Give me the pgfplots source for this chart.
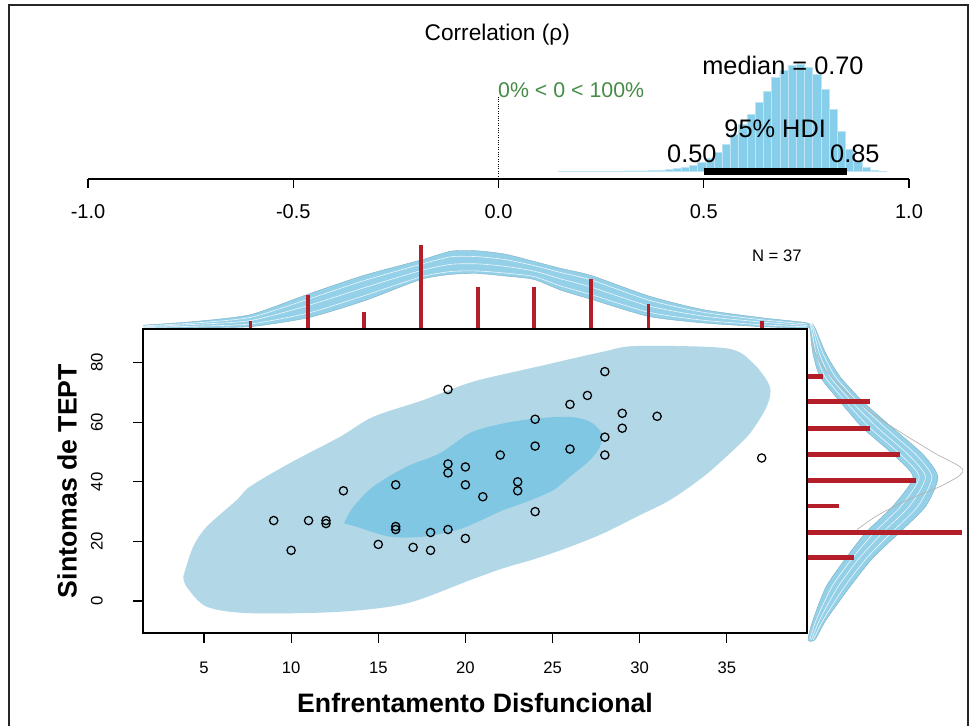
\documentclass[border=0pt]{standalone}
\usepackage{fontspec}
\setmainfont{Liberation Sans}
\usepackage{pgfplots}
\pgfplotsset{compat=1.18}
\definecolor{hist}{RGB}{135,206,235}
\definecolor{band}{RGB}{148,208,232}
\definecolor{outerc}{RGB}{178,215,231}
\definecolor{innerc}{RGB}{128,199,228}
\definecolor{barred}{RGB}{180,30,40}
\definecolor{txtgreen}{RGB}{70,140,70}
\begin{document}
\begin{tikzpicture}
\path[fill=white] (0,0) rectangle (732.75pt,544.5pt);
\draw[black!85, line width=1.8pt] (6.75pt,0pt) -- (6.75pt,540.75pt) -- (726pt,540.75pt) -- (726pt,0pt);

% ---------- posterior of rho ----------
\begin{axis}[
  at={(66pt,410.25pt)}, anchor=south west, scale only axis,
  width=615.75pt, height=120pt,
  xmin=-1, xmax=1, ymin=-7.3, ymax=152.7,
  axis x line=bottom, axis y line=none, x axis line style={-, line width=0.9pt},
  ytick=\empty, clip=false,
  xtick={-1,-0.5,0,0.5,1}, xticklabels={-1.0,-0.5,0.0,0.5,1.0},
  tick align=outside, major tick length=6.75pt, tick style={black, line width=0.9pt},
  xticklabel style={anchor=center, yshift=-17.75pt, font=\fontsize{15}{18}\selectfont},
]
\addplot[ybar, bar width=0.02, fill=hist, draw=hist!55!white, line width=0.3pt] coordinates {
 (0.155,0.3) (0.175,0.3) (0.195,0.3) (0.215,0.4) (0.235,0.4) (0.255,0.5) (0.275,0.5)
 (0.295,0.6) (0.315,0.7) (0.335,0.8) (0.355,0.9) (0.375,1.0) (0.395,1.3)
 (0.415,2) (0.435,3) (0.455,4) (0.475,6) (0.495,9) (0.515,13) (0.535,19) (0.555,27)
 (0.575,37) (0.595,47) (0.615,57) (0.635,69) (0.655,80) (0.675,94) (0.695,101)
 (0.715,106) (0.735,107) (0.755,104) (0.775,97) (0.795,82) (0.815,62) (0.835,40)
 (0.855,22) (0.875,10) (0.895,4) (0.915,1.5) (0.935,0.5)};
\addplot[black, line width=5.25pt] coordinates {(0.50,0) (0.85,0)};
\addplot[black, densely dotted, line width=0.8pt] coordinates {(0,-7.3) (0,74.7)};
\node[font=\fontsize{17}{20}\selectfont] at (axis cs:-0.003,136.7) {Correlation (ρ)};
\node[font=\fontsize{19}{22}\selectfont] at (axis cs:0.693,106.7) {median = 0.70};
\node[font=\fontsize{19}{22}\selectfont] at (axis cs:0.674,42.7) {95\% HDI};
\node[font=\fontsize{19}{22}\selectfont] at (axis cs:0.471,17.7) {0.50};
\node[font=\fontsize{19}{22}\selectfont] at (axis cs:0.868,17.7) {0.85};
\node[font=\fontsize{16}{19}\selectfont, text=txtgreen] at (axis cs:0.177,81.7) {0\% < 0 < 100\%};
\end{axis}

% ---------- top marginal (x) ----------
\begin{axis}[
  at={(107.25pt,297.75pt)}, anchor=south west, scale only axis,
  width=498pt, height=75pt,
  xmin=1.5, xmax=39.6, ymin=0, ymax=11.9, hide axis, clip=false,
]
\addplot[fill=band, draw=band!85!black, line width=0.3pt, smooth, tension=0.4] coordinates {
 (1.5,0.45) (4.5,0.9) (7.67,1.71) (10.98,4.15) (14.17,6.38) (17.45,8.21) (19.2,9.27)
 (20.73,9.30) (22.3,8.90) (23.92,8.05) (25.5,7.2) (27.2,6.38) (30.5,3.94) (33.6,2.32)
 (37,1.34) (39.6,0.73)
 (39.6,0.12) (37,0.28) (33.6,0.73) (30.5,1.5) (27.2,3.54) (25.5,4.6) (23.92,5.9)
 (22.3,6.3) (20.73,6.6) (19.2,6.5) (17.45,5.9) (14.17,3.33) (10.98,1.34) (7.67,0.28)
 (4.5,0.15) (1.5,0.1)};
\addplot[white, line width=0.45pt, opacity=0.85, smooth, tension=0.4] coordinates {
 (1.5,0.18) (4.5,0.33) (7.67,0.6) (10.98,1.9) (14.17,3.95) (17.45,6.2) (19.2,6.85)
 (20.73,6.9) (22.3,6.65) (23.92,6.25) (25.5,5.1) (27.2,4.1) (30.5,2.0) (33.6,1.05)
 (37,0.5) (39.6,0.25)};
\addplot[white, line width=0.45pt, opacity=0.85, smooth, tension=0.4] coordinates {
 (1.5,0.27) (4.5,0.55) (7.67,1.0) (10.98,2.8) (14.17,4.9) (17.45,6.95) (19.2,7.7)
 (20.73,7.75) (22.3,7.45) (23.92,6.9) (25.5,5.95) (27.2,5.0) (30.5,2.75) (33.6,1.55)
 (37,0.82) (39.6,0.42)};
\addplot[white, line width=0.45pt, opacity=0.85, smooth, tension=0.4] coordinates {
 (1.5,0.36) (4.5,0.72) (7.67,1.38) (10.98,3.55) (14.17,5.75) (17.45,7.7) (19.2,8.6)
 (20.73,8.6) (22.3,8.25) (23.92,7.55) (25.5,6.7) (27.2,5.85) (30.5,3.45) (33.6,2.0)
 (37,1.1) (39.6,0.6)};
\addplot[ycomb, barred, line width=2.8pt] coordinates {
 (7.67,1) (10.98,4) (14.17,2) (17.45,10) (20.73,5) (23.92,5) (27.2,6) (30.5,3) (37.0,1)};
\node[font=\fontsize{12.5}{15}\selectfont] at (axis cs:37.87,8.7) {N = 37};
\end{axis}

% ---------- right marginal (y) ----------
\begin{axis}[
  at={(606pt,69.75pt)}, anchor=south west, scale only axis,
  width=120pt, height=228pt,
  xmin=0, xmax=10.39, ymin=-10.74, ymax=91.3, hide axis, clip=false,
]
\addplot[fill=band, draw=band!85!black, line width=0.3pt, smooth, tension=0.4] coordinates {
 (0.3,93) (0.52,91) (1.17,83) (2.08,75.3) (3.57,66.9) (5.52,58) (7.47,49.2) (8.44,41.6)
 (7.66,31.9) (5.97,23.1) (4.22,14.5) (2.73,4.8) (1.17,-6.4) (0.45,-13)
 (0,-13) (0.32,-6.4) (1.17,4.8) (2.47,14.5) (3.77,23.1) (5.52,31.9) (6.82,41.6)
 (5.52,49.2) (3.57,58) (2.08,66.9) (0.78,75.3) (0.32,83) (0.13,91) (0.05,93)};
\addplot[white, line width=0.45pt, opacity=0.85, smooth, tension=0.4] coordinates {
 (0.11,93) (0.23,91) (0.53,83) (1.10,75.3) (2.45,66.9) (4.05,58) (6.0,49.2) (7.22,41.6)
 (6.05,31.9) (4.32,23.1) (2.9,14.5) (1.55,4.8) (0.53,-6.4) (0.11,-13)};
\addplot[white, line width=0.45pt, opacity=0.85, smooth, tension=0.4] coordinates {
 (0.18,93) (0.33,91) (0.75,83) (1.43,75.3) (2.83,66.9) (4.55,58) (6.5,49.2) (7.63,41.6)
 (6.6,31.9) (4.87,23.1) (3.35,14.5) (1.95,4.8) (0.75,-6.4) (0.23,-13)};
\addplot[white, line width=0.45pt, opacity=0.85, smooth, tension=0.4] coordinates {
 (0.25,93) (0.43,91) (0.98,83) (1.78,75.3) (3.22,66.9) (5.05,58) (7.0,49.2) (8.05,41.6)
 (7.15,31.9) (5.45,23.1) (3.82,14.5) (2.37,4.8) (0.98,-6.4) (0.35,-13)};
\addplot[gray!60, line width=0.5pt, smooth, tension=0.5] coordinates {
 (0.2,88) (0.78,80) (2.5,70) (4.7,61) (8.1,50) (10.06,44) (8.8,39) (6.5,34) (4.5,28.7) (3.2,24)};
\addplot[xcomb, barred, line width=3.6pt] coordinates {
 (1,75.3) (4,66.9) (4,58.0) (6,49.2) (7,40.4) (2,31.9) (10,23.1) (3,14.5)};
\end{axis}

% ---------- scatter ----------
\begin{axis}[
  at={(107.25pt,69.75pt)}, anchor=south west, scale only axis,
  width=498pt, height=228pt,
  xmin=1.5, xmax=39.6, ymin=-10.74, ymax=91.3,
  axis on top, tick align=outside, xtick pos=bottom, ytick pos=left,
  xtick={5,10,...,35}, ytick={0,20,...,80},
  major tick length=7.5pt, tick style={black, line width=0.9pt},
  axis line style={line width=1pt},
  /pgf/number format/assume math mode=true,
  xticklabel style={anchor=center, yshift=-18.75pt, font=\fontsize{12.5}{15}\selectfont},
  yticklabel style={xshift=-27pt, rotate=90, anchor=center, font=\fontsize{12.5}{15}\selectfont},
  xlabel={Enfrentamento Disfuncional}, ylabel={Sintomas de TEPT},
  xlabel style={at={(axis description cs:0.5,-0.230)}, anchor=center, font=\bfseries\fontsize{20}{24}\selectfont},
  ylabel style={at={(axis description cs:-0.1145,0.5)}, anchor=center, font=\bfseries\fontsize{20}{24}\selectfont},
]
\addplot[fill=outerc, draw=none, smooth, tension=0.5] coordinates {
 (3.81,8.2) (4.37,18.1) (5.15,24.9) (6.88,33.9) (7.64,38.4) (9.93,46.3) (12.80,55.1)
 (14.70,61.8) (17.56,67.4) (20.43,73.6) (24.09,78.6) (27.91,83.7) (29.83,85.6)
 (34.99,84.8) (36.51,79.8) (37.47,71.9) (37.28,65.2) (36.33,56.3) (35.18,49.6)
 (33.65,41.7) (31.74,33.9) (29.83,28.3) (27.91,22.7) (26.0,18.2) (24.09,14.3)
 (22.17,11.0) (20.26,7.0) (16.63,-0.8) (12.80,-3.6) (7.64,-4.1) (5.15,-1.9) (4.0,4.8) (3.81,8.2)};
\addplot[fill=innerc, draw=none, smooth, tension=0.5] coordinates {
 (13.03,26.1) (13.57,31.6) (14.71,38.4) (16.63,45.1) (18.54,49.6) (20.3,56.5) (22.17,59.6)
 (24.09,61.3) (26.0,61.8) (27.15,60.2) (27.82,56.3) (27.72,51.8) (27.15,47.3) (26.0,41.7)
 (25.04,37.2) (23.51,33.3) (22.17,30.5) (20.6,26.3) (19.5,23.8) (17.58,21.6) (15.67,21.6)
 (13.76,24.9) (13.03,26.1)};
\addplot[only marks, mark=o, mark size=3.1pt, black, mark options={line width=0.95pt}] coordinates {
 (19,71) (13,37) (9,27) (11,27) (12,27) (12,26) (10,17) (16,39) (16,25) (16,24)
 (15,19) (17,18) (18,23) (18,17) (19,46) (19,43) (19,24) (20,45) (20,39) (20,21)
 (28,77) (27,69) (26,66) (24,61) (29,63) (29,58) (31,62) (28,55) (28,49) (24,52)
 (26,51) (22,49) (23,40) (23,37) (21,35) (24,30) (37,48)};
\end{axis}
\end{tikzpicture}
\end{document}
